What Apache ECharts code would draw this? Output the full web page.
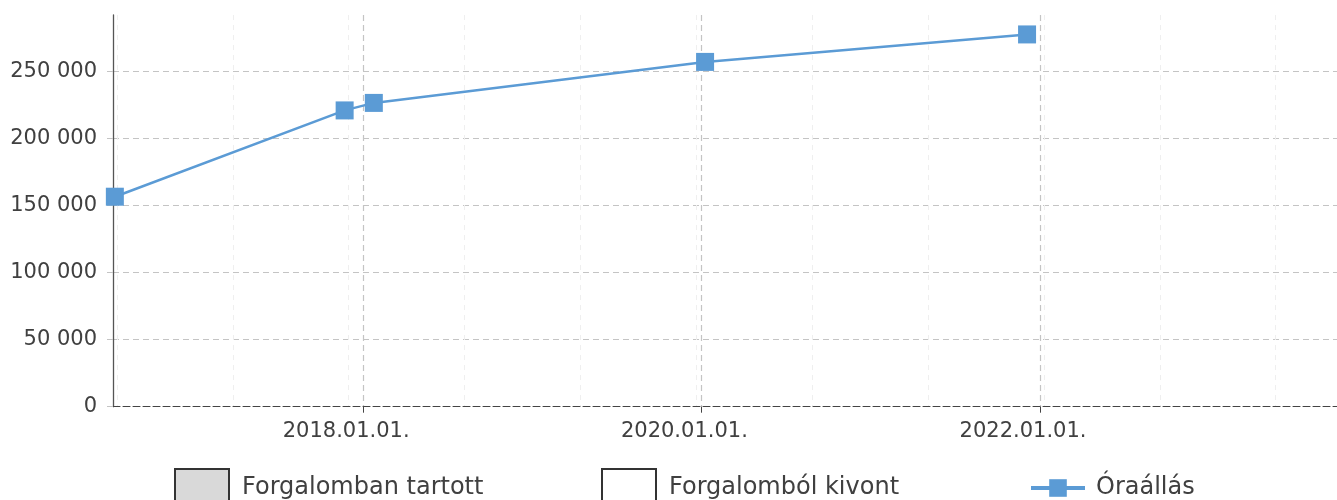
<!DOCTYPE html>
<html>
<head>
<meta charset="utf-8">
<script src="https://cdn.jsdelivr.net/npm/echarts@6/dist/echarts.min.js"></script>
<style>
html,body{margin:0;padding:0;background:#fff;}
#chart{width:1337px;height:500px;}
</style>
</head>
<body>
<div id="chart"></div>
<script>
// ---- data ----
const seriesNames = ['Forgalomban tartott', 'Forgalomból kivont', 'Óraállás'];
const readingDates = ['2016-07-14', '2017-11-22', '2018-01-24', '2020-01-09', '2021-12-04'];
const readingValues = [156700, 221100, 226700, 257300, 277800];
const inServiceValues = [];
const withdrawnValues = [];
const xTickLabels = ['2018-01-01', '2020-01-01', '2022-01-01'];
const yTickValues = [0, 50000, 100000, 150000, 200000, 250000];
const minorGridValues = [0, 1, 2, 3, 4, 5, 6, 7, 8, 9, 10];

const xMin = '2016-07-10';
const xMax = '2023-10-04';
const yMax = 292300;

const font = 'DejaVu Sans';
const textColor = '#404040';

function ts(s) {
  const p = s.split('-').map(Number);
  return Date.UTC(p[0], p[1] - 1, p[2]);
}
function fmtDate(v) {
  const d = new Date(v);
  const pad = n => (n < 10 ? '0' : '') + n;
  return d.getUTCFullYear() + '.' + pad(d.getUTCMonth() + 1) + '.' + pad(d.getUTCDate()) + '.';
}
function fmtThousands(v) {
  return String(v).replace(/\B(?=(\d{3})+(?!\d))/g, ' ');
}

const xTickTs = xTickLabels.map(ts);

const chart = echarts.init(document.getElementById('chart'), null, {renderer: 'canvas'});

const option = {
  animation: false,
  backgroundColor: '#fff',
  textStyle: {fontFamily: font},
  grid: {left: 113, right: 0, top: 15, bottom: 93.3, containLabel: false},
  legend: [
    {
      data: [seriesNames[0]], left: 174, top: 468, padding: 0,
      icon: 'rect', itemWidth: 54, itemHeight: 38,
      textStyle: {fontSize: 24, color: textColor, fontFamily: font, padding: [0, 0, 0, 8]}
    },
    {
      data: [seriesNames[1]], left: 601, top: 468, padding: 0,
      icon: 'rect', itemWidth: 54, itemHeight: 38,
      textStyle: {fontSize: 24, color: textColor, fontFamily: font, padding: [0, 0, 0, 8]}
    },
    {
      data: [seriesNames[2]], left: 1029, top: 476, padding: 0,
      itemWidth: 54, itemHeight: 22,
      lineStyle: {width: 4},
      textStyle: {fontSize: 24, color: textColor, fontFamily: font, padding: [0, 0, 0, 6]}
    }
  ],
  xAxis: [
    {
      type: 'value',
      min: ts(xMin),
      max: ts(xMax),
      axisLine: {show: true, onZero: false, lineStyle: {color: '#444', width: 1, type: [7, 3]}},
      axisTick: {show: true, length: 6, lineStyle: {color: '#444'}, customValues: xTickTs},
      axisLabel: {
        show: true, customValues: xTickTs,
        fontSize: 21, color: textColor, fontFamily: font, margin: 14,
        padding: [0, 34, 0, 0],
        formatter: function (v) { return fmtDate(v); }
      },
      splitLine: {show: true, lineStyle: {color: '#c4c4c4', width: 1.2, type: [6, 4]}}
    },
    {
      type: 'value',
      gridIndex: 0,
      position: 'bottom',
      min: -0.0345,
      max: 10.5286,
      axisLine: {show: false, onZero: false},
      axisTick: {show: false, customValues: minorGridValues},
      axisLabel: {show: false, customValues: minorGridValues},
      splitLine: {show: true, lineStyle: {color: '#efefef', width: 1, type: [5, 5]}}
    }
  ],
  yAxis: {
    type: 'value',
    min: 0,
    max: yMax,
    axisLine: {show: true, onZero: false, lineStyle: {color: '#555', width: 1.3}},
    axisTick: {show: true, length: 6, lineStyle: {color: '#c4c4c4'}, customValues: yTickValues},
    axisLabel: {
      show: true, customValues: yTickValues,
      fontSize: 21, color: textColor, fontFamily: font, margin: 16,
      formatter: function (v) { return fmtThousands(v); }
    },
    splitLine: {show: true, lineStyle: {color: '#c4c4c4', width: 1.2, type: [6, 4]}}
  },
  series: [
    {
      name: seriesNames[0], type: 'bar', xAxisIndex: 0,
      data: inServiceValues,
      itemStyle: {color: '#d9d9d9', borderColor: '#333', borderWidth: 1.5}
    },
    {
      name: seriesNames[1], type: 'bar', xAxisIndex: 0,
      data: withdrawnValues,
      itemStyle: {color: '#ffffff', borderColor: '#333', borderWidth: 1.5}
    },
    {
      name: seriesNames[2], type: 'line', xAxisIndex: 0,
      data: readingDates.map((d, i) => [ts(d), readingValues[i]]),
      symbol: 'rect', symbolSize: 18,
      lineStyle: {color: '#5b9bd5', width: 2.5},
      itemStyle: {color: '#5b9bd5'},
      z: 5
    }
  ]
};
chart.setOption(option);
</script>
</body>
</html>
